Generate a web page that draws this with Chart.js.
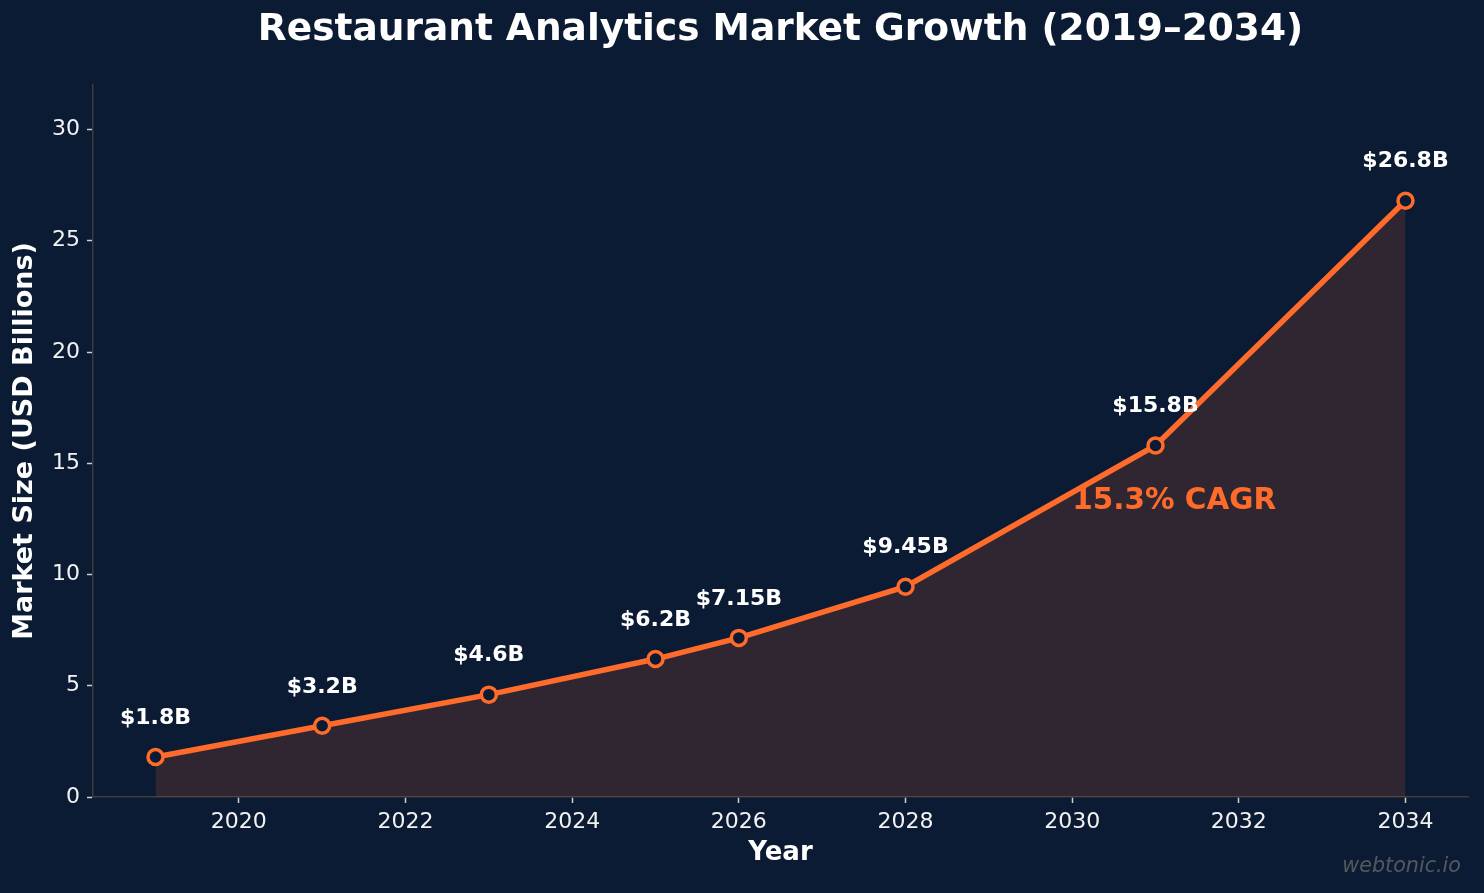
<!DOCTYPE html>
<html>
<head>
<meta charset="utf-8">
<script src="https://cdn.jsdelivr.net/npm/chart.js@4/dist/chart.umd.min.js"></script>
<style>
  html, body { margin: 0; padding: 0; background: #0b1b33; }
  #wrap { width: 1484px; height: 893px; position: relative; }
</style>
</head>
<body>
<div id="wrap"><canvas id="c"></canvas></div>
<script>
const years = [2019, 2021, 2023, 2025, 2026, 2028, 2031, 2034];
const marketSize = [1.8, 3.2, 4.6, 6.2, 7.15, 9.45, 15.8, 26.8];
const valueLabels = ['$1.8B', '$3.2B', '$4.6B', '$6.2B', '$7.15B', '$9.45B', '$15.8B', '$26.8B'];
const xTicks = [2020, 2022, 2024, 2026, 2028, 2030, 2032, 2034];
const yTicks = [0, 5, 10, 15, 20, 25, 30];
const cagrText = '15.3% CAGR';
const cagrPos = { x: 2030, y: 13.3 };

const BG = '#0b1b33';
const ORANGE = '#ff6b2b';
const FONT = "'DejaVu Sans', sans-serif";

const labelPlugin = {
  id: 'labels',
  afterDatasetsDraw(chart) {
    const ctx = chart.ctx;
    const xs = chart.scales.x, ys = chart.scales.y;
    ctx.save();
    ctx.fillStyle = '#ffffff';
    ctx.font = "bold 22px " + FONT;
    ctx.textAlign = 'center';
    ctx.textBaseline = 'middle';
    years.forEach((yr, i) => {
      const px = xs.getPixelForValue(yr);
      const py = ys.getPixelForValue(marketSize[i]);
      ctx.fillText(valueLabels[i], px, py - 39);
    });
    ctx.fillStyle = ORANGE;
    ctx.font = "bold 29.5px " + FONT;
    ctx.textAlign = 'left';
    ctx.fillText(cagrText, xs.getPixelForValue(cagrPos.x), ys.getPixelForValue(cagrPos.y));
    ctx.fillStyle = 'rgba(110,110,110,0.75)';
    ctx.font = "italic 20.7px " + FONT;
    ctx.textAlign = 'right';
    ctx.fillText('webtonic.io', 1461, 867);
    ctx.restore();
  }
};

new Chart(document.getElementById('c'), {
  type: 'line',
  data: {
    datasets: [{
      data: years.map((y, i) => ({ x: y, y: marketSize[i] })),
      borderColor: ORANGE,
      borderWidth: 5.5,
      backgroundColor: 'rgba(255,107,43,0.15)',
      fill: 'origin',
      tension: 0,
      pointRadius: 7.5,
      pointHoverRadius: 7.5,
      pointBackgroundColor: BG,
      pointBorderColor: ORANGE,
      pointBorderWidth: 3.5
    }]
  },
  options: {
    responsive: true,
    maintainAspectRatio: false,
    animation: false,
    layout: { padding: { left: 0, right: 16, top: 0, bottom: 0 } },
    plugins: {
      legend: { display: false },
      tooltip: { enabled: false },
      title: {
        display: true,
        fullSize: false,
        text: 'Restaurant Analytics Market Growth (2019–2034)',
        color: '#ffffff',
        font: { family: FONT, size: 37.5, weight: 'bold', lineHeight: 1.2 },
        padding: { top: 7.5, bottom: 32.5 }
      }
    },
    scales: {
      x: {
        type: 'linear',
        min: 2018.25,
        max: 2034.75,
        afterBuildTicks: s => { s.ticks = xTicks.map(v => ({ value: v })); },
        afterFit: s => { s.height = 96; },
        ticks: {
          color: '#f2f2f2',
          font: { family: FONT, size: 22 },
          padding: 6,
          maxRotation: 0,
          callback: v => String(v)
        },
        grid: { display: true, drawOnChartArea: false, drawTicks: true, tickLength: 6, tickColor: '#d0d0d0', tickWidth: 1.5 },
        border: { display: true, color: '#3c3c3c', width: 1.5 },
        title: {
          display: true, text: 'Year', color: '#ffffff',
          font: { family: FONT, size: 26, weight: 'bold', lineHeight: 1.2 },
          padding: { top: 0, bottom: 24.5 }
        }
      },
      y: {
        type: 'linear',
        min: 0,
        max: 32,
        afterBuildTicks: s => { s.ticks = yTicks.map(v => ({ value: v })); },
        afterFit: s => { s.width = 93; },
        ticks: {
          color: '#f2f2f2',
          font: { family: FONT, size: 22 },
          padding: 7,
          callback: v => String(v)
        },
        grid: { display: true, drawOnChartArea: false, drawTicks: true, tickLength: 6, tickColor: '#d0d0d0', tickWidth: 1.5 },
        border: { display: true, color: '#3c3c3c', width: 1.5 },
        title: {
          display: true, text: 'Market Size (USD Billions)', color: '#ffffff',
          font: { family: FONT, size: 27, weight: 'bold', lineHeight: 1.2 },
          padding: { top: 9, bottom: 0 }
        }
      }
    }
  },
  plugins: [labelPlugin]
});
</script>
</body>
</html>
